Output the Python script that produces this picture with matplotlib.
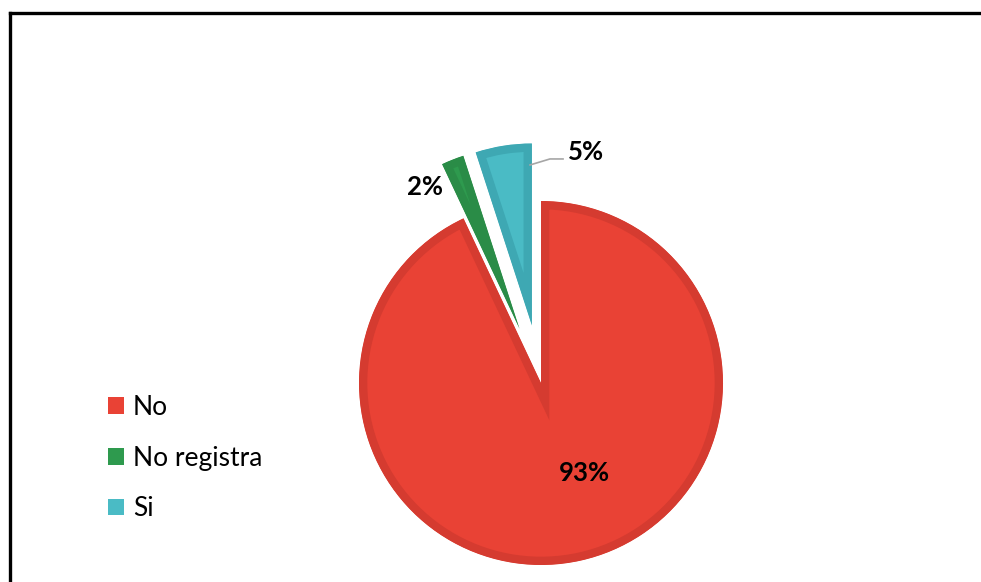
import matplotlib
matplotlib.use("Agg")
import matplotlib.pyplot as plt
from matplotlib.lines import Line2D
from matplotlib.patches import Patch

categories = ["No", "No registra", "Si"]
values = [93, 2, 5]
face_colors = ["#E94235", "#2E9A4E", "#4ABBC5"]
edge_colors = ["#D53B30", "#2A8C47", "#3EA8B3"]
explode = [0.0, 0.32, 0.32]

W, H, DPI = 981, 582, 100
fig = plt.figure(figsize=(W / DPI, H / DPI), dpi=DPI)
ax = fig.add_axes([0, 0, 1, 1])

wedges, _ = ax.pie(values, explode=explode, startangle=90, counterclock=False,
                   colors=face_colors, radius=1.0,
                   wedgeprops=dict(linewidth=12, joinstyle="miter"))

# pixel-based data window: pie centre at (541, 383) px, 1 unit = 182 px
cx, cy, unit = 541, 383, 182
ax.set_xlim(-cx / unit, (W - cx) / unit)
ax.set_ylim(-(H - cy) / unit, cy / unit)
ax.set_aspect("auto")
ax.axis("off")

# inner border band: stroke clipped to each wedge's own outline
for w, ec in zip(wedges, edge_colors):
    w.set_edgecolor(ec)
    w.set_clip_on(True)
    w.set_clip_path(w.get_path(), w.get_transform())

lab_font = dict(family=["Lato", "DejaVu Sans"], fontsize=18.5, fontweight="bold", color="black")
ax.text(0.236, -0.495, f"{values[0]}%", ha="center", va="center", **lab_font)
ax.text(-0.637, 1.077, f"{values[1]}%", ha="center", va="center", **lab_font)
ax.text(0.148, 1.269, f"{values[2]}%", ha="left", va="center", **lab_font)
ax.plot([-0.060, 0.049, 0.121], [1.198, 1.231, 1.231], color="#A6A6A6", lw=1.2)

handles = [Patch(facecolor=c, edgecolor="none") for c in face_colors]
fig.legend(handles, categories, loc="upper left", bbox_to_anchor=(108 / W, 1 - 395 / H),
           frameon=False, prop=dict(family=["Lato", "DejaVu Sans"], size=19),
           handlelength=0.6, handleheight=0.6, handletextpad=0.35,
           labelspacing=0.97, borderaxespad=0, borderpad=0)

# outer frame (top and left edges)
fig.add_artist(Line2D([10 / W, 10 / W], [0, 1 - 13 / H], color="black", lw=2.4,
                      transform=fig.transFigure, solid_capstyle="projecting"))
fig.add_artist(Line2D([10 / W, 1], [1 - 13 / H, 1 - 13 / H], color="black", lw=2.4,
                      transform=fig.transFigure, solid_capstyle="projecting"))

fig.savefig("out.png", dpi=DPI, facecolor="white")
